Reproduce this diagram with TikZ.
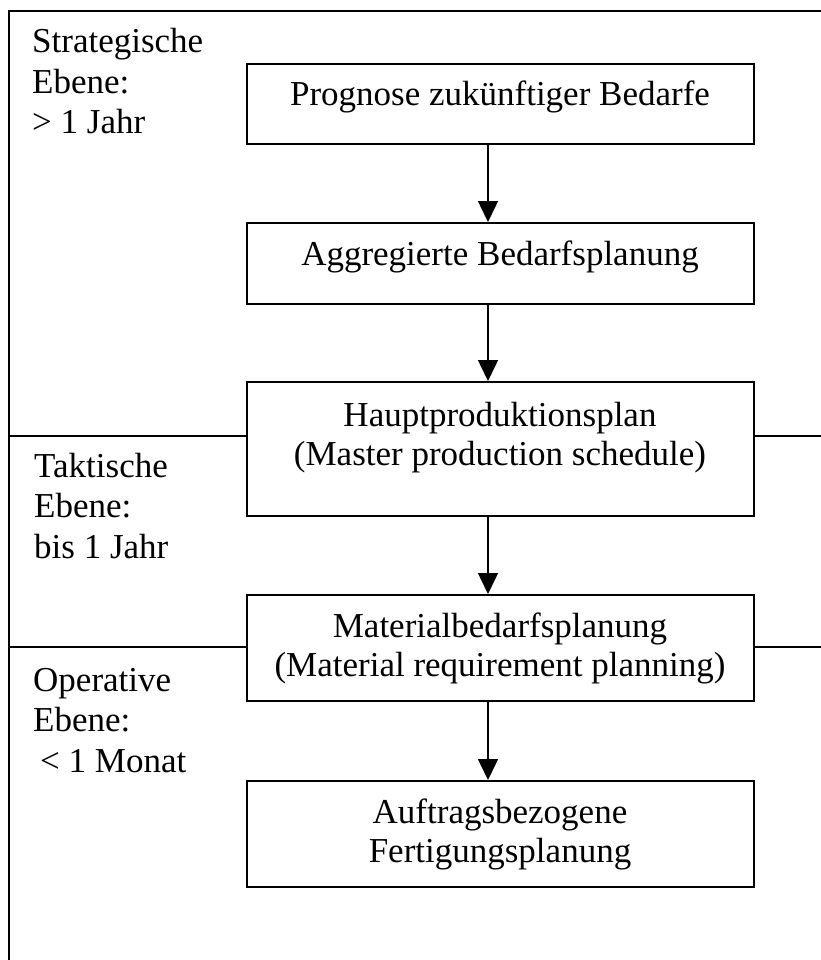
\documentclass[tikz,border=0pt]{standalone}
\usepackage{fontspec}
\setmainfont{Liberation Serif}
\usetikzlibrary{arrows.meta,calc}
\begin{document}
\begin{tikzpicture}[x=1pt,y=-1pt,
  box/.style={draw, line width=2pt, minimum width=507pt, inner sep=0pt},
  txt/.style={font=\fontsize{35}{39}\selectfont, inner sep=0pt, align=center},
  lbl/.style={font=\fontsize{35}{40.5}\selectfont, inner sep=0pt, align=left},
  arr/.style={line width=1.5pt, -{Triangle[length=21pt,width=20pt]}},
  rulel/.style={line width=2pt}]
\useasboundingbox (0,0) rectangle (820,960);
\fill[white] (0,0) rectangle (820,960);
% frame
\coordinate (tl) at (9,11);
\coordinate (tr) at (822,11);
\coordinate (bl) at (9,962);
\coordinate (h1) at (9,436);
\coordinate (h2) at (9,647);
\coordinate (ax) at (488,0);
\draw[rulel] (tr) -- (tl) -- (bl);
% boxes
\node[box, minimum height=80pt]  (b1) at (500.5,104) {};
\node[box, minimum height=81pt]  (b2) at (500.5,263.5) {};
\node[box, minimum height=134pt] (b3) at (500.5,449) {};
\node[box, minimum height=106pt] (b4) at (500.5,648) {};
\node[box, minimum height=106pt] (b5) at (500.5,834) {};
% texts (base = baseline of last line)
\node[txt, anchor=base] (t1) at (500,106) {Prognose zukünftiger Bedarfe};
\node[txt, anchor=base] (t2) at (500,265) {Aggregierte Bedarfsplanung};
\node[txt, anchor=base] (t3) at (500,465) {Hauptproduktionsplan\\(Master production schedule)};
\node[txt, anchor=base] (t4) at (500,676) {Materialbedarfsplanung\\(Material requirement planning)};
\node[txt, anchor=base] (t5) at (500,862) {Auftragsbezogene\\Fertigungsplanung};
% level labels
\node[lbl, anchor=base west] (l1) at (32,134) {Strategische\\Ebene:\\> 1 Jahr};
\node[lbl, anchor=base west] (l2) at (34,558) {Taktische\\Ebene:\\bis 1 Jahr};
\node[lbl, anchor=base west] (l3) at (33,772) {Operative\\Ebene:\\\hspace*{7pt}< 1 Monat};
% separators
\draw[rulel] (h1) -- (h1 -| b3.west);
\draw[rulel] (b3.east |- h1) -- (h1 -| tr);
\draw[rulel] (h2) -- (h2 -| b4.west);
\draw[rulel] (b4.east |- h2) -- (h2 -| tr);
% arrows
\draw[arr] (b1.south -| ax) -- (b2.north -| ax);
\draw[arr] (b2.south -| ax) -- (b3.north -| ax);
\draw[arr] (b3.south -| ax) -- (b4.north -| ax);
\draw[arr] (b4.south -| ax) -- (b5.north -| ax);
\end{tikzpicture}
\end{document}
